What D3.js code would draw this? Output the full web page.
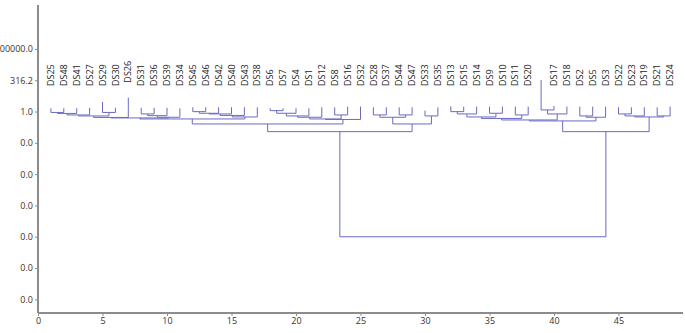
<!DOCTYPE html>
<html>
<head>
<meta charset="utf-8">
<script src="https://cdn.jsdelivr.net/npm/d3@7"></script>
<style>
  html, body { margin: 0; padding: 0; background: #fff; }
  svg { display: block; font-family: "Open Sans", "Noto Sans", sans-serif; }
</style>
</head>
<body>
<svg id="chart" width="685" height="333"></svg>
<script>
// ---- data ----
const leafLabels = ["DS25","DS48","DS41","DS27","DS29","DS30","DS26","DS31","DS36","DS39","DS34",
  "DS45","DS46","DS42","DS40","DS43","DS38","DS6","DS7","DS4","DS1","DS12","DS8","DS16","DS32",
  "DS28","DS37","DS44","DS47","DS33","DS35","DS13","DS15","DS14","DS9","DS10","DS11","DS20","",
  "DS17","DS18","DS2","DS5","DS3","DS22","DS23","DS19","DS21","DS24"];
const leafHeights = [1.83,1.83,1.83,2.0,5.8,2.0,12.9,2.0,2.0,2.0,1.83,
  2.2,2.2,2.2,2.2,2.2,2.2,1.83,1.83,1.83,1.83,2.2,2.2,2.46,2.46,
  2.2,2.2,2.2,2.2,1.18,2.2,2.6,2.46,2.46,2.46,2.46,2.46,2.46,334,
  2.8,2.46,2.46,2.46,2.46,2.2,2.2,2.2,2.2,2.46];
// merges: [childA, childB, height]; ids continue after the leaves (49, 50, ...)
const merges = [
  [0,1,0.847],[49,2,0.705],[50,3,0.535],[4,5,0.847],[51,52,0.445],[53,6,0.338],
  [7,8,0.643],[55,9,0.470],[56,10,0.350],[54,57,0.308],
  [11,12,0.982],[59,13,0.731],[60,14,0.643],[61,15,0.488],[62,16,0.370],[58,63,0.256],
  [17,18,1.180],[65,19,0.731],[66,20,0.445],[67,21,0.350],[22,23,0.535],[68,69,0.256],[70,24,0.234],
  [64,71,0.102],
  [25,26,0.535],[27,28,0.535],[73,74,0.350],[29,30,0.445],[75,76,0.102],
  [72,77,0.0248],
  [31,32,0.982],[79,33,0.643],[34,35,0.731],[80,81,0.370],[36,37,0.535],[82,83,0.281],
  [38,39,1.342],[85,40,0.643],[84,86,0.213],
  [41,42,0.445],[88,43,0.350],[87,89,0.178],
  [44,45,0.643],[91,46,0.445],[47,48,0.445],[92,93,0.370],
  [90,94,0.0248],
  [78,95,1e-10]
];
const xTicks = [0,5,10,15,20,25,30,35,40,45];
const yTickExponents = [5,2.5,0,-2.5,-5,-7.5,-10,-12.5,-15];

// ---- layout ----
const svg = d3.select("#chart");
const x = d3.scaleLinear().domain([0, 50]).range([38, 683]);
const y = d3.scaleLog().domain([Math.pow(10, -16.09), Math.pow(10, 8.51)]).range([313, 5]);

// nodes
const nodes = leafLabels.map((l, i) => ({ pos: i + 1, h: leafHeights[i], label: l }));
merges.forEach(([a, b, h]) => {
  nodes.push({ pos: (nodes[a].pos + nodes[b].pos) / 2, h: h, children: [a, b] });
});

const lineColor = "#6a6ac4";
const g = svg.append("g").attr("fill", "none").attr("stroke", lineColor).attr("stroke-width", 1);
nodes.forEach(n => {
  if (!n.children) return;
  const [a, b] = n.children.map(i => nodes[i]);
  const yy = y(n.h);
  [a, b].forEach(c => {
    g.append("line").attr("x1", x(c.pos)).attr("x2", x(c.pos))
      .attr("y1", y(c.h)).attr("y2", yy);
  });
  g.append("line").attr("x1", x(a.pos)).attr("x2", x(b.pos)).attr("y1", yy).attr("y2", yy);
});

// leaf labels
svg.append("g").selectAll("text")
  .data(nodes.slice(0, leafLabels.length).filter(d => d.label))
  .join("text")
  .attr("transform", d => `translate(${x(d.pos)},${Math.min(86, y(d.h) - 15)}) rotate(-90)`)
  .attr("dy", "0.35em")
  .attr("text-anchor", "start")
  .attr("font-size", 9)
  .attr("fill", "#222")
  .text(d => d.label);

// axes
const axisColor = "#8c8c8c";
const yAxis = d3.axisLeft(y)
  .tickValues(yTickExponents.map(e => Math.pow(10, e)))
  .tickFormat(d3.format(".1f"))
  .tickSize(3).tickPadding(2);
const gy = svg.append("g").attr("transform", "translate(38,0)").call(yAxis);
const xAxis = d3.axisBottom(x).tickValues(xTicks).tickFormat(d3.format("d")).tickSize(3).tickPadding(2);
const gx = svg.append("g").attr("transform", "translate(0,313)").call(xAxis);
[gx, gy].forEach(ax => {
  ax.select(".domain").attr("stroke", axisColor).attr("stroke-width", 2);
  ax.selectAll(".tick line").attr("stroke", axisColor);
  ax.selectAll(".tick text").attr("fill", "#333").attr("font-size", 9)
    .attr("font-family", '"Open Sans", "Noto Sans", sans-serif');
});
gy.select(".domain").attr("d", "M0,5V313");
gx.select(".domain").attr("d", "M38,0H683");
</script>
</body>
</html>
